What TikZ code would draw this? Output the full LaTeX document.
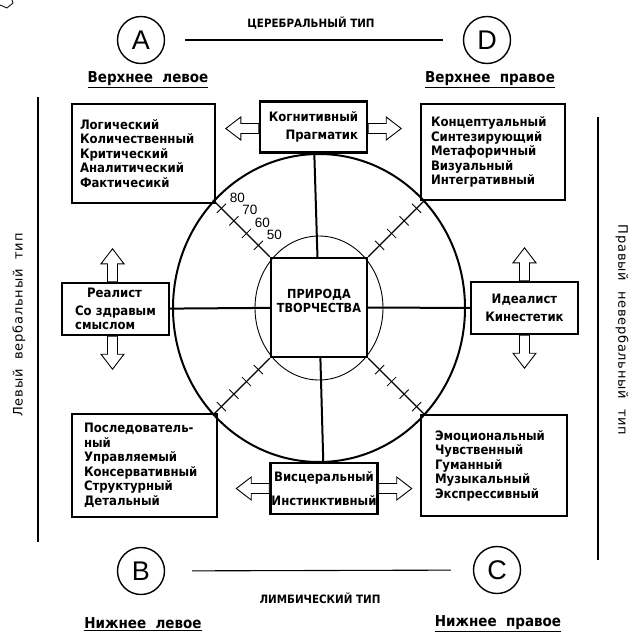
\documentclass[tikz,border=0pt]{standalone}
\usepackage{fontspec}
\setmainfont{DejaVu Sans}
\newfontfamily\heavy{DejaVu Sans Condensed Bold}
\newfontfamily\thinfont{Liberation Sans}
\begin{document}
\begin{tikzpicture}[x=1pt, y=-1pt, line width=1.1pt,
    every node/.style={font=\fontsize{13}{14.5}\selectfont\heavy},
    letter/.style={draw, circle, line width=1.4pt, minimum size=47pt, inner sep=0pt, font=\fontsize{27}{27}\selectfont\thinfont},
    corner/.style={font=\fontsize{15}{15}\selectfont\heavy},
    caption/.style={font=\fontsize{11.5}{12}\selectfont\heavy},
    side/.style={font=\fontsize{13}{13}\selectfont\addfontfeature{LetterSpace=6}},
    listbox/.style={draw, align=left, inner ysep=0pt},
    typebox/.style={draw, line width=2.4pt, minimum width=107pt, minimum height=51pt, inner sep=1pt},
    tick/.style={font=\fontsize{13.5}{13.5}\selectfont\thinfont, inner sep=0pt},
    hollow/.pic={\draw[line width=0.9pt, fill=white] (0,-5) -- (18,-5) -- (18,-11.5) -- (33,0) -- (18,11.5) -- (18,5) -- (0,5) -- cycle;}]
\useasboundingbox (0,0) rectangle (631,635);
\draw[line width=0.8pt] (0,5) -- (7,8) -- (13,3) -- (12,0);
\node[letter] (A) at (141,40) {A};
\node[letter] (D) at (487,40) {D};
\node[letter] (B) at (141,571) {B};
\node[letter] (C) at (497,570) {C};
\draw[shorten <=20pt, shorten >=20pt] (A) -- (D);
\draw[shorten <=27pt, shorten >=22pt] (B) -- (C);
\node[caption] (cerebral) at (311,23) {ЦЕРЕБРАЛЬНЫЙ ТИП};
\node[caption] (limbic) at (320,598) {ЛИМБИЧЕСКИЙ ТИП};
\node[corner] (upleft) at (148,80) {\underline{Верхнее~~левое}};
\node[corner] (upright) at (490,80) {\underline{Верхнее~~правое}};
\node[corner] (lowleft) at (143,624) {\underline{Нижнее~~левое}};
\node[corner] (lowright) at (498,624) {\underline{Нижнее~~правое}};
\draw[line width=1.4pt] (38,97) -- (38,542);
\draw[line width=1.4pt] (598,117) -- (598,560);
\node[side, rotate=90] (leftside) at (19,325) {Левый~~вербальный~~тип};
\node[side, rotate=-90] (rightside) at (622,330) {Правый~~невербальный~~тип};

\node[listbox, text width=127pt, inner xsep=8pt, minimum height=99pt] (leftup) at (143.5,153.5) {Логический\\Количественный\\Критический\\Аналитический\\Фактичесикй};
\node[listbox, text width=124pt, inner xsep=10pt, minimum height=96pt] (rightup) at (493,152) {Концептуальный\\Синтезирующий\\Метафоричный\\Визуальный\\Интегративный};
\node[listbox, text width=121pt, inner xsep=12pt, minimum height=103pt] (leftlow) at (144.5,465.5) {Последователь-\\ный\\Управляемый\\Консервативный\\Структурный\\Детальный};
\node[listbox, text width=118pt, inner xsep=14pt, minimum height=101pt] (rightlow) at (494,465.5) {Эмоциональный\\Чувственный\\Гуманный\\Музыкальный\\Экспрессивный};

\draw[line width=2pt] (319,308) ellipse [x radius=146, y radius=154];
\draw[line width=0.9pt] (319,308) ellipse [x radius=64, y radius=72];
\node[typebox, minimum width=96pt, minimum height=99pt, font=\fontsize{12.5}{14}\selectfont\heavy, align=center] (core) at (319,307.5) {ПРИРОДА\\ТВОРЧЕСТВА\\~};
\node[typebox, align=right] (cog) at (313.5,127) {Когнитивный\\[3pt]Прагматик};
\node[typebox, align=center] (visc) at (324,488.5) {Висцеральный\\[10pt]Инстинктивный};
\node[typebox, minimum height=52pt, align=left] (real) at (115.5,309) {\hspace*{12pt}Реалист\\[3pt]Со здравым\\смыслом};
\node[typebox, minimum height=52pt, align=center] (ideal) at (524.5,308) {Идеалист\\[4pt]Кинестетик};
\draw[line width=2pt] (cog) -- (core);
\draw[line width=2pt] (core) -- (visc);
\draw[line width=2pt] (real) -- (core);
\draw[line width=2pt] (core) -- (ideal);

\pic[rotate=180] at ([yshift=-1.5pt]cog.west) {hollow};
\pic at ([yshift=-1.5pt]cog.east) {hollow};
\pic[rotate=180] at (visc.west) {hollow};
\pic at (visc.east) {hollow};
\pic[rotate=90] at ([xshift=-3pt]real.north) {hollow};
\pic[rotate=-90] at ([xshift=-3pt]real.south) {hollow};
\pic[rotate=90] at (ideal.north) {hollow};
\pic[rotate=-90] at (ideal.south) {hollow};

\foreach \c/\k/\dx/\dy in {north west/nw/-1/-1, north east/ne/1/-1, south west/sw/-1/1, south east/se/1/1} {
  \draw (core.\c) -- ++({57*\dx},{57*\dy});
  \foreach \t/\n in {0.2/50, 0.41/60, 0.63/70, 0.85/80}
    \draw[line width=0.8pt] (core.\c) ++({\t*57*\dx},{\t*57*\dy}) coordinate (tk-\k-\n) ++({4.6*\dy},{-4.6*\dx}) -- ++({-9.2*\dy},{9.2*\dx});
}
\foreach \n in {50,60,70,80}
  \node[tick] (mark\n) at ([shift={(16,-11)}]tk-nw-\n) {\n};
\end{tikzpicture}
\end{document}
